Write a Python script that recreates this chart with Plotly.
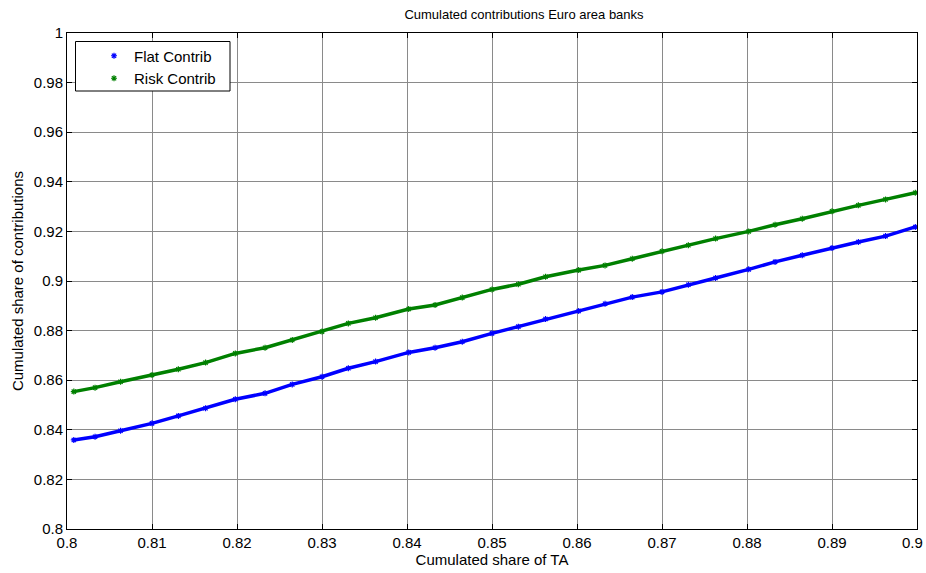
import plotly.graph_objects as go

# Cumulated share of total assets (x) and cumulated share of contributions (y)
share_ta = [
    0.8008, 0.8033, 0.8063, 0.8100, 0.8131, 0.8163, 0.8198,
    0.8233, 0.8265, 0.8300, 0.8331, 0.8363, 0.8402,
    0.8433, 0.8465, 0.8500, 0.8531, 0.8563, 0.8602,
    0.8633, 0.8665, 0.8700, 0.8731, 0.8763, 0.8802,
    0.8833, 0.8865, 0.8900, 0.8931, 0.8963, 0.8998,
]
flat_contrib = [
    0.8359, 0.8372, 0.8396, 0.8426, 0.8456, 0.8487, 0.8523,
    0.8547, 0.8583, 0.8614, 0.8648, 0.8675, 0.8712,
    0.8731, 0.8755, 0.8789, 0.8816, 0.8847, 0.8879,
    0.8908, 0.8935, 0.8956, 0.8985, 0.9012, 0.9047,
    0.9077, 0.9104, 0.9133, 0.9157, 0.9181, 0.9218,
]
risk_contrib = [
    0.8554, 0.8570, 0.8594, 0.8621, 0.8644, 0.8671, 0.8708,
    0.8731, 0.8762, 0.8796, 0.8829, 0.8852, 0.8887,
    0.8903, 0.8933, 0.8966, 0.8987, 0.9017, 0.9044,
    0.9063, 0.9090, 0.9120, 0.9144, 0.9171, 0.9200,
    0.9227, 0.9251, 0.9281, 0.9305, 0.9329, 0.9356,
]

x_ticks = [0.80, 0.81, 0.82, 0.83, 0.84, 0.85, 0.86, 0.87, 0.88, 0.89, 0.90]
x_tick_labels = ["0.8", "0.81", "0.82", "0.83", "0.84", "0.85", "0.86", "0.87", "0.88", "0.89", "0.9"]
y_ticks = [0.80, 0.82, 0.84, 0.86, 0.88, 0.90, 0.92, 0.94, 0.96, 0.98, 1.00]
y_tick_labels = ["0.8", "0.82", "0.84", "0.86", "0.88", "0.9", "0.92", "0.94", "0.96", "0.98", "1"]

series = [
    ("Flat Contrib", flat_contrib, "#0000FF"),
    ("Risk Contrib", risk_contrib, "#008000"),
]

FONT = "Liberation Sans, Arial, sans-serif"
TICK_FONT = dict(family=FONT, size=15, color="black")

fig = go.Figure()
for name, values, color in series:
    # dense band of points
    fig.add_trace(go.Scatter(
        x=share_ta, y=values, mode="lines",
        line=dict(color=color, width=3.5),
        showlegend=False, legendgroup=name, hoverinfo="skip",
    ))
    fig.add_trace(go.Scatter(
        x=share_ta, y=values, mode="markers", name=name, legendgroup=name,
        marker=dict(symbol="asterisk-open", size=5, color=color,
                    line=dict(color=color, width=1.2)),
    ))

axis_common = dict(
    showgrid=True, gridcolor="#8a8a8a", gridwidth=1,
    zeroline=False, showline=True, linecolor="black", linewidth=1,
    mirror="ticks", ticks="inside", ticklen=5, tickcolor="black",
    tickfont=TICK_FONT, automargin=False,
)

# the rightmost x label sits at the page edge, so it is placed as an
# annotation nudged inward instead of being clipped
x_text = x_tick_labels[:-1] + [""]
fig.update_xaxes(
    range=[0.8, 0.9000001], tickvals=x_ticks, ticktext=x_text,
    title=dict(text="Cumulated share of TA", standoff=3,
               font=dict(family=FONT, size=15, color="black")),
    **axis_common,
)
fig.add_annotation(
    x=x_ticks[-1], xref="x", y=0, yref="paper", yanchor="top",
    text=x_tick_labels[-1], showarrow=False, font=TICK_FONT,
    xanchor="center", xshift=-5, yshift=-3,
)
fig.update_yaxes(
    range=[0.8, 1.0000001], tickvals=y_ticks, ticktext=y_tick_labels,
    title=dict(text="Cumulated share of contributions", standoff=6,
               font=dict(family=FONT, size=15, color="black")),
    **axis_common,
)

# legend frame
fig.add_shape(
    type="rect", xref="paper", yref="paper",
    x0=(75.5 - 67) / 850, x1=(230 - 67) / 850,
    y0=1 - (91 - 33) / 496, y1=1 - (41.5 - 33) / 496,
    line=dict(color="black", width=1), fillcolor="white", layer="above",
)

fig.update_layout(
    width=926, height=573,
    margin=dict(l=67, r=9, t=33, b=44),
    paper_bgcolor="white", plot_bgcolor="white",
    title=dict(text="Cumulated contributions Euro area banks",
               x=(524 - 67) / 850, xref="paper", xanchor="center",
               y=1 - 14 / 573, yref="container", yanchor="middle",
               font=dict(family=FONT, size=13, color="black")),
    legend=dict(
        x=(94 - 67) / 850, y=1 - (39.5 - 33) / 496, xanchor="left", yanchor="top",
        bgcolor="rgba(0,0,0,0)", borderwidth=0,
        font=dict(family=FONT, size=15, color="black"),
        tracegroupgap=0, itemsizing="trace",
    ),
    showlegend=True,
)

fig.write_html("out.html")
